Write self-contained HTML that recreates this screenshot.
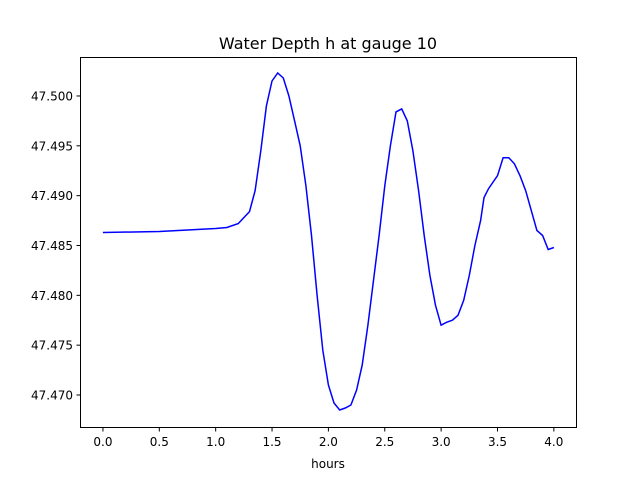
<!DOCTYPE html>
<html><head><meta charset="utf-8"><style>body{margin:0;background:#fff}svg{display:block;font-family:"DejaVu Sans","Liberation Sans",sans-serif}</style></head>
<body>
<svg id="chart" width="640" height="480" xmlns="http://www.w3.org/2000/svg">
<rect width="640" height="480" fill="#fff"/>
<text x="328" y="49" text-anchor="middle" font-size="16">Water Depth h at gauge 10</text>
<text x="328" y="468" text-anchor="middle" font-size="12">hours</text>
<g id="ticks"></g>
<path id="line" fill="none" stroke="#0000ff" stroke-width="1.5"/>
<rect x="80.5" y="57.5" width="496" height="370" fill="none" stroke="#000" stroke-width="1"/>
</svg>
<script>
const xTicks=[0,0.5,1,1.5,2,2.5,3,3.5,4];
const xTickLabels=["0.0","0.5","1.0","1.5","2.0","2.5","3.0","3.5","4.0"];
const yTicks=[47.470,47.475,47.480,47.485,47.490,47.495,47.500];
const yTickLabels=["47.470","47.475","47.480","47.485","47.490","47.495","47.500"];
const hours=[0,0.5,1.0,1.1,1.2,1.3,1.35,1.4,1.45,1.5,1.55,1.6,1.65,1.7,1.75,1.8,1.85,1.9,1.95,2.0,2.05,2.1,2.15,2.2,2.25,2.3,2.35,2.4,2.45,2.5,2.55,2.6,2.65,2.7,2.75,2.8,2.85,2.9,2.95,3.0,3.05,3.1,3.15,3.2,3.25,3.3,3.35,3.38,3.42,3.5,3.55,3.6,3.65,3.7,3.75,3.8,3.85,3.9,3.95,4.0];
const depth=[47.4863,47.4864,47.4867,47.4868,47.4872,47.4884,47.4905,47.4945,47.4990,47.5015,47.5023,47.5018,47.5000,47.4975,47.4950,47.4910,47.4860,47.4800,47.4745,47.4710,47.4692,47.4685,47.4687,47.4690,47.4705,47.4730,47.4770,47.4815,47.4860,47.4910,47.4950,47.4984,47.4987,47.4975,47.4945,47.4905,47.4860,47.4820,47.4790,47.4770,47.4773,47.4775,47.4780,47.4795,47.4820,47.4850,47.4875,47.4898,47.4907,47.4920,47.4938,47.4938,47.4932,47.4920,47.4905,47.4885,47.4865,47.4860,47.4846,47.4848];
const X=v=>80.4+(v+0.2)/4.4*496;
const Y=v=>427.2-(v-47.46677)/(47.50385-47.46677)*369.6;
const ns="http://www.w3.org/2000/svg",g=document.getElementById('ticks');
function mk(t,a){const e=document.createElementNS(ns,t);for(const k in a)e.setAttribute(k,a[k]);g.appendChild(e);return e;}
xTicks.forEach((v,i)=>{const x=X(v);
 const l=mk('line',{x1:x,x2:x,y1:427.5,y2:431.5,stroke:'#000'});
 
 
 const t=mk('text',{x:x,y:446,'text-anchor':'middle','font-size':12});t.textContent=xTickLabels[i];
 
 });
yTicks.forEach((v,i)=>{const y=Y(v);
 const l=mk('line',{x1:76.5,x2:80.5,y1:y,y2:y,stroke:'#000'});
 
 
 const t=mk('text',{x:73,y:y+4.5,'text-anchor':'end','font-size':12});t.textContent=yTickLabels[i];
 
 });
document.getElementById('line').setAttribute('d',hours.map((h,i)=>(i?'L':'M')+X(h).toFixed(1)+','+Y(depth[i]).toFixed(1)).join(''));
</script>
</body></html>
